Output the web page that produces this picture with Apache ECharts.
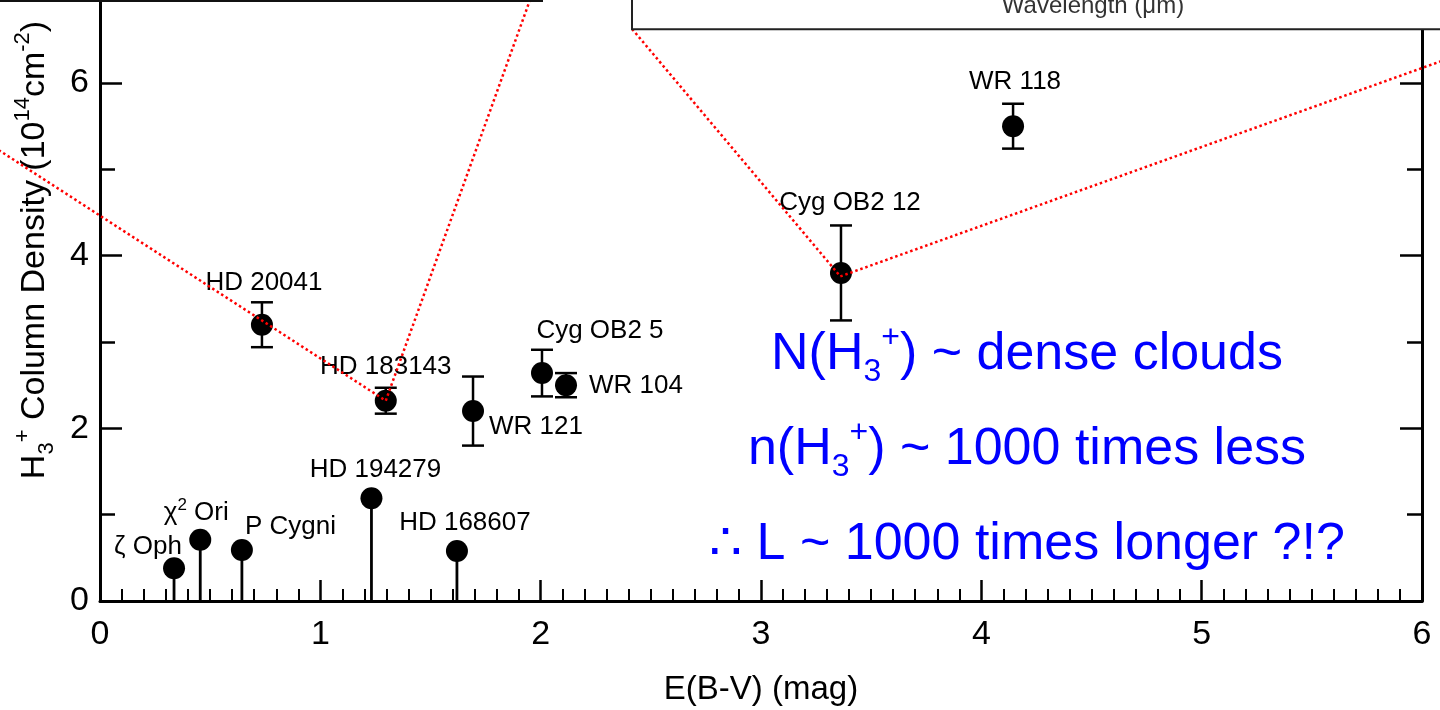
<!DOCTYPE html>
<html>
<head>
<meta charset="utf-8">
<script src="https://cdn.jsdelivr.net/npm/echarts@6/dist/echarts.min.js"></script>
<style>
html,body{margin:0;padding:0;background:#fff;}
#c{width:1440px;height:710px;}
</style>
</head>
<body>
<div id="c"></div>
<script>
// ---------------- data ----------------
const xTickValues = [0, 1, 2, 3, 4, 5, 6];
const yTickValues = [0, 2, 4, 6];
const yMinorTickValues = [1, 3, 5];

// detections with error bars
const detNames = ['HD 20041', 'HD 183143', 'WR 121', 'Cyg OB2 5', 'WR 104', 'Cyg OB2 12', 'WR 118'];
const detEBV   = [0.735, 1.297, 1.693, 2.006, 2.115, 3.363, 4.144];
const detN     = [3.20, 2.32, 2.20, 2.64, 2.50, 3.80, 5.50];
const detErr   = [0.26, 0.15, 0.40, 0.27, 0.14, 0.55, 0.26];

// upper limits (drawn with a stem down to zero)
const ulNames = ['ζ Oph', 'χ2 Ori', 'P Cygni', 'HD 194279', 'HD 168607'];
const ulEBV   = [0.336, 0.455, 0.644, 1.232, 1.620];
const ulN     = [0.38, 0.71, 0.59, 1.19, 0.58];

// dotted callout lines to the inset spectra (data coordinates)
const calloutLeftEBV  = [-0.5, 1.297, 1.971];
const calloutLeftN    = [5.29, 2.32, 7.10];
const calloutRightEBV = [2.415, 3.36, 6.10];
const calloutRightN   = [6.626, 3.76, 6.265];

// ---------------- layout / style ----------------
const FONT = "'Liberation Sans', Arial, Helvetica, sans-serif";
const detLabelLayout = [
  {dx: 2,  dy: -42, align: 'center'},
  {dx: 0,  dy: -34, align: 'center'},
  {dx: 16, dy: 16,  align: 'left'},
  {dx: 58, dy: -42, align: 'center'},
  {dx: 23, dy: 1,   align: 'left'},
  {dx: 9,  dy: -70, align: 'center'},
  {dx: 2,  dy: -44, align: 'center'}
];
const ulLabelLayout = [
  {dx: -26, dy: -21, align: 'center'},
  {dx: -4,  dy: -27, align: 'center'},
  {dx: 3,   dy: -23, align: 'left'},
  {dx: 4,   dy: -28, align: 'center'},
  {dx: 8,   dy: -28, align: 'center'}
];

function labelText(name) {
  if (name === 'χ2 Ori') return '{t|χ}{s|2}{t| Ori}';
  return '{t|' + name + '}';
}
const labelRich = {
  t: {fontSize: 26, fontFamily: FONT, color: '#000', lineHeight: 32},
  s: {fontSize: 17, fontFamily: FONT, color: '#000', lineHeight: 17, verticalAlign: 'top'}
};

function makeItem(x, y, name, lay) {
  return {
    value: [x, y],
    name: name,
    label: {
      show: true,
      position: 'inside',
      offset: [lay.dx, lay.dy],
      align: lay.align,
      verticalAlign: 'middle',
      formatter: labelText(name),
      rich: labelRich,
      color: '#000',
      textBorderWidth: 0
    }
  };
}

const scatterData = detEBV.map((x, i) => makeItem(x, detN[i], detNames[i], detLabelLayout[i]))
  .concat(ulEBV.map((x, i) => makeItem(x, ulN[i], ulNames[i], ulLabelLayout[i])));

const errData = detEBV.map((x, i) => [x, detN[i], detErr[i]]);
const stemData = ulEBV.map((x, i) => [x, ulN[i]]);

function segments(xs, ys) {
  const out = [];
  for (let i = 0; i < xs.length - 1; i++) out.push([xs[i], ys[i], xs[i + 1], ys[i + 1]]);
  return out;
}
const calloutData = segments(calloutLeftEBV, calloutLeftN).concat(segments(calloutRightEBV, calloutRightN));

const axisBase = {
  type: 'value',
  min: 0,
  max: 6.95,
  splitLine: {show: false},
  minorSplitLine: {show: false}
};

const subSupRich = (fs, small, lh, color) => ({
  n:   {fontSize: fs, fontFamily: FONT, color: color, lineHeight: lh},
  sub: {fontSize: small, fontFamily: FONT, color: color, lineHeight: small, verticalAlign: 'bottom'},
  sup: {fontSize: small, fontFamily: FONT, color: color, lineHeight: small, verticalAlign: 'top'}
});

const yRich = subSupRich(34, 22, 46, '#000');
const blueRich = subSupRich(52, 32, 66, '#0000ff');

const option = {
  animation: false,
  backgroundColor: '#fff',
  grid: {left: 100, right: 18, top: 1, bottom: 109, containLabel: false, outerBoundsMode: 'none'},
  xAxis: {
    type: 'value', min: 0, max: 6, interval: 1,
    position: 'bottom',
    axisLine: {show: true, onZero: false, lineStyle: {color: '#000', width: 3}},
    axisTick: {show: true, inside: true, length: 21, customValues: xTickValues, lineStyle: {color: '#000', width: 2.5}},
    minorTick: {show: true, splitNumber: 10, length: 12, lineStyle: {color: '#000', width: 2}},
    axisLabel: {show: true, margin: 17, color: '#000', fontSize: 34, fontFamily: FONT, customValues: xTickValues, formatter: v => String(v)},
    splitLine: {show: false},
    minorSplitLine: {show: false},
    name: 'E(B-V) (mag)',
    nameLocation: 'middle',
    nameGap: 72,
    nameTextStyle: {fontSize: 33, color: '#000', fontFamily: FONT}
  },
  yAxis: [
    Object.assign({}, axisBase, {
      position: 'left',
      axisLine: {show: true, onZero: false, lineStyle: {color: '#000', width: 3}},
      axisTick: {show: true, inside: true, length: 22, customValues: yTickValues, lineStyle: {color: '#000', width: 2.5}},
      axisLabel: {show: true, margin: 11, color: '#000', fontSize: 34, fontFamily: FONT, customValues: yTickValues, formatter: v => String(v)},
      name: '{n|H}{sub|3}{sup|+}{n| Column Density (10}{sup|14}{n|cm}{sup|-2}{n|)}',
      nameLocation: 'middle',
      nameRotate: 90,
      nameGap: 42,
      nameTextStyle: {fontSize: 34, fontFamily: FONT, color: '#000', padding: [0, 0, 0, 102], rich: yRich}
    }),
    Object.assign({}, axisBase, {
      position: 'left',
      axisLine: {show: false},
      axisTick: {show: true, inside: true, length: 15, customValues: yMinorTickValues, lineStyle: {color: '#000', width: 2.5}},
      axisLabel: {show: false}
    }),
    Object.assign({}, axisBase, {
      position: 'right',
      axisLine: {show: true, onZero: false, lineStyle: {color: '#000', width: 3}},
      axisTick: {show: true, inside: true, length: 22, customValues: yTickValues, lineStyle: {color: '#000', width: 2.5}},
      axisLabel: {show: false}
    }),
    Object.assign({}, axisBase, {
      position: 'right',
      axisLine: {show: false},
      axisTick: {show: true, inside: true, length: 15, customValues: yMinorTickValues, lineStyle: {color: '#000', width: 2.5}},
      axisLabel: {show: false}
    })
  ],
  series: [
    {
      type: 'custom',
      name: 'error bars',
      silent: true,
      z: 3,
      data: errData,
      renderItem: function (params, api) {
        const x = api.value(0), y = api.value(1), e = api.value(2);
        const top = api.coord([x, y + e]);
        const bot = api.coord([x, y - e]);
        const hw = 11;
        const st = {stroke: '#000', lineWidth: 2.5};
        return {
          type: 'group',
          children: [
            {type: 'line', shape: {x1: top[0], y1: top[1], x2: bot[0], y2: bot[1]}, style: st},
            {type: 'line', shape: {x1: top[0] - hw, y1: top[1], x2: top[0] + hw, y2: top[1]}, style: st},
            {type: 'line', shape: {x1: bot[0] - hw, y1: bot[1], x2: bot[0] + hw, y2: bot[1]}, style: st}
          ]
        };
      }
    },
    {
      type: 'custom',
      name: 'upper limit stems',
      silent: true,
      z: 3,
      data: stemData,
      renderItem: function (params, api) {
        const p = api.coord([api.value(0), api.value(1)]);
        const b = api.coord([api.value(0), 0]);
        return {type: 'line', shape: {x1: p[0], y1: p[1], x2: b[0], y2: b[1]}, style: {stroke: '#000', lineWidth: 2.8}};
      }
    },
    {
      type: 'scatter',
      name: 'sources',
      symbol: 'circle',
      symbolSize: 22,
      z: 4,
      itemStyle: {color: '#000', borderWidth: 0, opacity: 1},
      emphasis: {disabled: true},
      data: scatterData
    },
    {
      type: 'custom',
      name: 'callouts',
      clip: false,
      silent: true,
      z: 6,
      data: calloutData,
      renderItem: function (params, api) {
        const a = api.coord([api.value(0), api.value(1)]);
        const b = api.coord([api.value(2), api.value(3)]);
        return {type: 'line', shape: {x1: a[0], y1: a[1], x2: b[0], y2: b[1]},
                style: {stroke: '#ff0000', lineWidth: 2.5, lineDash: [2.5, 2.8]}};
      }
    }
  ],
  graphic: [
    {type: 'rect', z: 100, shape: {x: -10, y: -60, width: 552, height: 61}, style: {fill: '#fff', stroke: '#111', lineWidth: 2}},
    {type: 'rect', z: 100, shape: {x: 632, y: -60, width: 900, height: 89.3}, style: {fill: '#fff', stroke: '#222', lineWidth: 2}},
    {type: 'text', z: 101, x: 1093, y: 6, style: {text: 'Wavelength (μm)', fontSize: 24, fontFamily: FONT, fill: '#333', align: 'center', verticalAlign: 'middle'}},
    {type: 'text', z: 101, x: 1027, y: 355, style: {text: '{n|N(H}{sub|3}{sup|+}{n|) ~ dense clouds}', rich: blueRich, fill: '#0000ff', fontSize: 52, fontFamily: FONT, align: 'center', verticalAlign: 'middle'}},
    {type: 'text', z: 101, x: 1027, y: 450, style: {text: '{n|n(H}{sub|3}{sup|+}{n|) ~ 1000 times less}', rich: blueRich, fill: '#0000ff', fontSize: 52, fontFamily: FONT, align: 'center', verticalAlign: 'middle'}},
    {type: 'text', z: 101, x: 1027, y: 545, style: {text: '{n|∴ L ~ 1000 times longer ?!?}', rich: blueRich, fill: '#0000ff', fontSize: 52, fontFamily: FONT, align: 'center', verticalAlign: 'middle'}}
  ]
};

const chart = echarts.init(document.getElementById('c'));
chart.setOption(option);
</script>
</body>
</html>
